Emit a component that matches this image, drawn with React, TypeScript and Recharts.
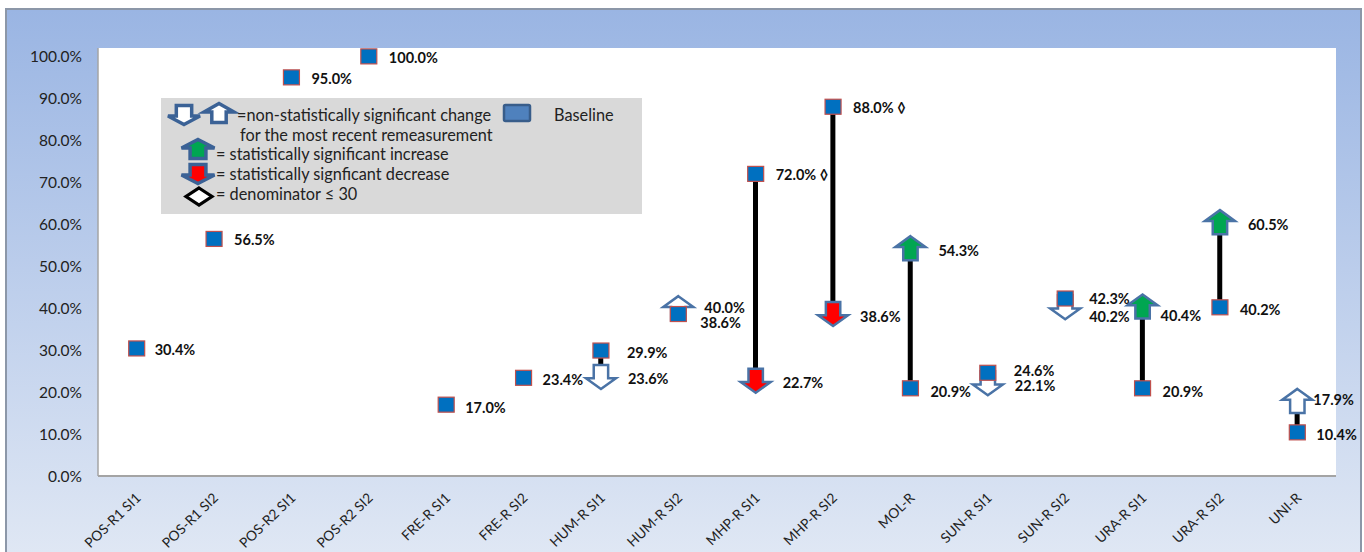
import React from "react";
import { ComposedChart, Bar, Line, XAxis, YAxis, CartesianGrid } from "recharts";

const categories = ["POS-R1 SI1","POS-R1 SI2","POS-R2 SI1","POS-R2 SI2","FRE-R SI1","FRE-R SI2","HUM-R SI1","HUM-R SI2","MHP-R SI1","MHP-R SI2","MOL-R","SUN-R SI1","SUN-R SI2","URA-R SI1","URA-R SI2","UNI-R"];
const baseline = [30.4,56.5,95.0,100.0,17.0,23.4,29.9,38.6,72.0,88.0,20.9,24.6,42.3,20.9,40.2,10.4];
const remeasure: (number|null)[] = [null,null,null,null,null,null,23.6,40.0,22.7,38.6,54.3,22.1,40.2,40.4,60.5,17.9];
const significant = [false,false,false,false,false,false,false,false,true,true,true,false,false,true,true,false];
const lowDenominator = [false,false,false,false,false,false,false,false,true,true,false,false,false,false,false,false];
const yTicks = [0,10,20,30,40,50,60,70,80,90,100];

const rows = categories.map((name,i)=>({
  name,
  baseline: baseline[i],
  remeasure: remeasure[i],
  link: remeasure[i]==null ? null : [Math.min(baseline[i],remeasure[i] as number),Math.max(baseline[i],remeasure[i] as number)],
  up: remeasure[i]!=null && (remeasure[i] as number)>baseline[i],
  significant: significant[i],
  low: lowDenominator[i],
}));

// Label nudges from each mark, in pixels, kept apart from the data.
const baseOffset: [number,number][] = [[18,1],[20,1],[20,1],[20,1],[19,3],[19,2],[26,2],[22,8],[20,1],[20,1],[20,3],[26,-2],[24,0],[20,3],[20,2],[19,2]];
const remOffset: [number,number][] = [[0,0],[0,0],[0,0],[0,0],[0,0],[0,0],[27,2],[26,-1],[27,2],[27,2],[28,2],[27,2],[24,9],[18,9],[28,2],[16,-1]];

const FONT = "Lato, 'Open Sans', sans-serif";
const BLUE = "#4a73a6";

function Arrow({cx,cy,up,fill,w=30,h=24,sw=2.5,stroke=BLUE}:{cx:number;cy:number;up:boolean;fill:string;w?:number;h?:number;sw?:number;stroke?:string}){
  const dir = up ? 1 : -1;
  const tip = cy - dir*h/2;
  const neck = tip + dir*h*0.45;
  const foot = cy + dir*h/2;
  const s = w*0.24;
  const d = `M${cx},${tip} L${cx+w/2},${neck} L${cx+s},${neck} L${cx+s},${foot} L${cx-s},${foot} L${cx-s},${neck} L${cx-w/2},${neck} Z`;
  return <path d={d} fill={fill} stroke={stroke} strokeWidth={sw} strokeLinejoin="miter" />;
}

function arrowFill(up:boolean,sig:boolean){
  if(!sig) return "#ffffff";
  return up ? "#00a651" : "#ff0000";
}

function BaseDot(props:any){
  const {cx,cy,index} = props;
  return <rect key={index} x={cx-8} y={cy-7.5} width={16} height={15} fill="#0070c0" stroke="#c0504d" strokeWidth={1.2} />;
}

function RemDot(props:any){
  const {cx,cy,index,payload} = props;
  if(payload.remeasure==null || cy==null) return <g key={index} />;
  return <g key={index}><Arrow cx={cx} cy={cy} up={payload.up} fill={arrowFill(payload.up,payload.significant)} /></g>;
}

function PctLabel({x,y,index,value,offsets,mark}:any){
  if(value==null || y==null) return <g key={index} />;
  const [dx,dy] = offsets[index];
  return <text key={index} x={x+dx} y={y+dy} dominantBaseline="central" fontFamily={FONT} fontSize={14.5} fontWeight={700} fill="#111">{`${Number(value).toFixed(1)}%${mark?" ◊":""}`}</text>;
}

function XTick({x,y,payload}:any){
  return <text x={x+5} y={y+15} textAnchor="end" fontFamily={FONT} fontSize={13.8} fill="#222" transform={`rotate(-44 ${x+5} ${y+15})`}>{payload.value}</text>;
}

const legendLines = [
  {x:237,y:114,t:"=non-statistically significant change"},
  {x:240,y:134,t:"for the most recent remeasurement"},
  {x:216,y:153,t:"= statistically significant increase"},
  {x:216,y:173,t:"= statistically signficant decrease"},
  {x:216,y:193,t:"= denominator ≤ 30"},
  {x:554,y:114,t:"Baseline"},
];

function LegendBox(){
  return (
    <svg width={1364} height={552} style={{position:"absolute",left:0,top:0,pointerEvents:"none"}}>
      <rect x={161} y={98} width={481} height={116} fill="#d9d9d9" />
      <Arrow cx={184} cy={115} up={false} fill="#fff" w={32} h={19} sw={3.5} stroke="#3b6296" />
      <Arrow cx={219} cy={113} up={true} fill="#fff" w={30} h={19} sw={3.5} stroke="#3b6296" />
      <Arrow cx={198} cy={149} up={true} fill="#00a651" w={33} h={19} sw={3.5} stroke="#3b6296" />
      <Arrow cx={198} cy={174} up={false} fill="#ff0000" w={33} h={19} sw={3.5} stroke="#3b6296" />
      <path d="M199,188 L212,196.5 L199,205 L186,196.5 Z" fill="#fff" stroke="#000" strokeWidth={3.2} />
      <rect x={504} y={105} width={26} height={16} rx={1.5} fill="#4f81bd" stroke="#385d8a" strokeWidth={2.5} />
      {legendLines.map(l=>(
        <text key={l.t} x={l.x} y={l.y} dominantBaseline="central" fontFamily={FONT} fontSize={16.3} fill="#222">{l.t}</text>
      ))}
    </svg>
  );
}

export default function App(){
  return (
    <div style={{position:"absolute",left:0,top:0,width:1364,height:552,background:"#fff",overflow:"hidden"}}>
      <div style={{position:"absolute",left:5,top:8,width:1357,height:546,boxSizing:"border-box",border:"2px solid #8c97a8",background:"linear-gradient(180deg,#9ab5e3 0%,#dfe7f4 100%)"}} />
      <div style={{position:"absolute",left:0,top:0}}>
        <ComposedChart width={1364} height={552} data={rows} margin={{top:48,right:28,bottom:0,left:38}}>
          <CartesianGrid horizontal={false} vertical={false} fill="#ffffff" />
          <XAxis dataKey="name" height={76} interval={0} tickLine={false} axisLine={{stroke:"#a4a4a4",strokeWidth:2}} tick={<XTick />} />
          <YAxis type="number" domain={[0,102]} ticks={yTicks} width={60} interval={0} allowDataOverflow tickLine={false} axisLine={{stroke:"#a4a4a4",strokeWidth:1.5}} tickMargin={10} tickFormatter={(v:number)=>`${v.toFixed(1)}%`} tick={{fontFamily:FONT,fontSize:15.5,fill:"#222"}} />
          <Bar dataKey="link" barSize={5} fill="#000000" isAnimationActive={false} />
          <Line dataKey="remeasure" stroke="none" connectNulls={false} isAnimationActive={false} dot={RemDot} activeDot={false} label={(p:any)=><PctLabel {...p} offsets={remOffset} />} />
          <Line dataKey="baseline" stroke="none" isAnimationActive={false} dot={BaseDot} activeDot={false} label={(p:any)=><PctLabel {...p} offsets={baseOffset} mark={lowDenominator[p.index]} />} />
        </ComposedChart>
      </div>
      <LegendBox />
    </div>
  );
}
